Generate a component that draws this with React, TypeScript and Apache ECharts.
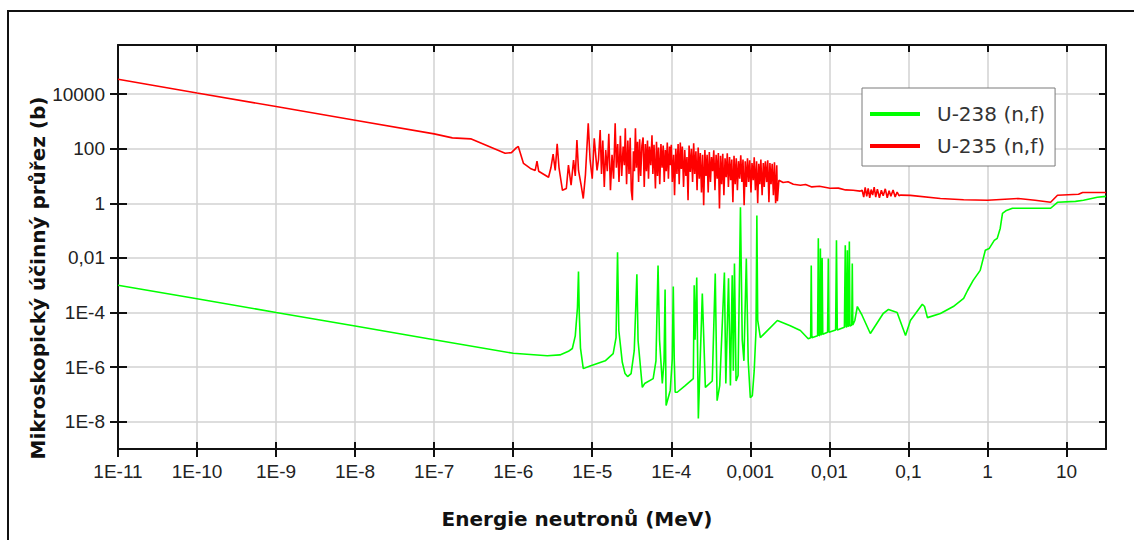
import React, { useEffect, useRef } from 'react';
import * as echarts from 'echarts';

const seriesNames = ['U-238 (n,f)', 'U-235 (n,f)'];
const xTitle = 'Energie neutronů (MeV)';
const yTitle = 'Mikroskopický účinný průřez (b)';

// axis ranges (decimal exponents)
const xRangeExp = [-11, 1.5];
const yRangeExp = [-9, 5.8];

const xTickExps = [-11, -10, -9, -8, -7, -6, -5, -4, -3, -2, -1, 0, 1];
const xTickLabels = ['1E-11', '1E-10', '1E-9', '1E-8', '1E-7', '1E-6', '1E-5', '1E-4', '0,001', '0,01', '0,1', '1', '10'];
const yTickExps = [-8, -6, -4, -2, 0, 2, 4];
const yTickLabels = ['1E-8', '1E-6', '1E-4', '0,01', '1', '100', '10000'];

// U-238 (n,f): [energy MeV, cross section b]
const u238: [number, number][] = [
  [1e-11, 1.0e-3], [1e-10, 3.2e-4], [1e-9, 1.0e-4], [1e-8, 3.2e-5], [1e-7, 1.0e-5], [1e-6, 3.2e-6],
  [2.7e-6, 2.6e-6], [3.9e-6, 2.8e-6], [5.0e-6, 3.8e-6], [5.6e-6, 4.8e-6], [6.1e-6, 1.4e-5], [6.5e-6, 1.5e-4],
  [6.7e-6, 3.2e-3], [6.85e-6, 1.0e-4], [7.1e-6, 5e-6], [7.7e-6, 8.8e-7], [9.4e-6, 1.1e-6], [1.46e-5, 1.7e-6],
  [1.84e-5, 3.1e-6], [2.0e-5, 1.2e-5], [2.09e-5, 0.016], [2.17e-5, 2.2e-5], [2.4e-5, 1.5e-6], [2.6e-5, 5.8e-7],
  [2.8e-5, 4.5e-7], [3.1e-5, 5.8e-7], [3.4e-5, 4.0e-6], [3.67e-5, 2.5e-3], [3.8e-5, 9.4e-6], [4.3e-5, 1.8e-7],
  [4.6e-5, 2.5e-7], [5.9e-5, 3.8e-7], [6.4e-5, 1.7e-6], [6.8e-5, 5.3e-3], [7.1e-5, 1.0e-5], [7.7e-5, 2.5e-7],
  [8.1e-5, 1.7e-6], [8.35e-5, 7e-4], [8.6e-5, 3.9e-8], [9.7e-5, 1.4e-7], [1.03e-4, 2e-6], [1.06e-4, 9e-4],
  [1.09e-4, 2e-6], [1.12e-4, 1.2e-7], [1.19e-4, 1.2e-7], [1.5e-4, 2.1e-7], [1.9e-4, 3.8e-7], [1.95e-4, 1.0e-3],
  [2.0e-4, 1.0e-5], [2.1e-4, 1.9e-3], [2.2e-4, 1.3e-8], [2.47e-4, 5e-4], [2.7e-4, 1.8e-7], [3.3e-4, 3.1e-7],
  [3.6e-4, 2.7e-3], [3.8e-4, 5.9e-8], [4.1e-4, 2.1e-7], [4.7e-4, 2.9e-3], [4.9e-4, 2.5e-7], [5.3e-4, 1.8e-3],
  [5.6e-4, 2.1e-7], [5.9e-4, 2.3e-3], [6.1e-4, 7.4e-7], [6.3e-4, 6.3e-3], [6.6e-4, 3.1e-7], [7.0e-4, 4.9e-7],
  [7.5e-4, 0.71], [7.9e-4, 1.0e-5], [8.3e-4, 1.7e-6], [8.9e-4, 9.6e-3], [9.4e-4, 1.7e-6], [1.0e-3, 7.6e-8],
  [1.06e-3, 9e-8], [1.12e-3, 7.4e-7], [1.18e-3, 2.2e-5], [1.21e-3, 0.36], [1.24e-3, 5.1e-5], [1.34e-3, 1.2e-5],
  [2.2e-3, 5.1e-5], [3.2e-3, 3.3e-5], [4.3e-3, 2.2e-5], [5.4e-3, 1.1e-5], [5.8e-3, 1.2e-5], [5.9e-3, 5.3e-3],
  [6.0e-3, 1.2e-5], [7.1e-3, 1.4e-5], [7.25e-3, 0.052], [7.4e-3, 1.4e-5], [7.6e-3, 1.5e-5], [7.7e-3, 0.022],
  [7.85e-3, 1.5e-5], [8.0e-3, 1.6e-5], [8.1e-3, 0.01], [8.25e-3, 1.6e-5], [9.5e-3, 1.9e-5], [9.7e-3, 9.6e-3],
  [9.9e-3, 1.9e-5], [1.2e-2, 2.3e-5], [1.23e-2, 0.044], [1.26e-2, 2.3e-5], [1.55e-2, 2.9e-5], [1.59e-2, 0.029],
  [1.63e-2, 2.9e-5], [1.66e-2, 3.0e-5], [1.69e-2, 0.019], [1.72e-2, 3.1e-5], [1.76e-2, 3.2e-5], [1.79e-2, 0.04],
  [1.82e-2, 3.2e-5], [1.92e-2, 3.5e-5], [1.95e-2, 6.3e-3], [1.98e-2, 3.5e-5], [2.1e-2, 5.1e-5], [2.26e-2, 1.66e-4],
  [2.6e-2, 7.8e-5], [3.3e-2, 1.7e-5], [4.8e-2, 9.2e-5], [5.6e-2, 1.3e-4], [7.2e-2, 1.0e-4], [9.2e-2, 1.43e-5],
  [0.106, 5.1e-5], [0.15, 2.0e-4], [0.16, 1.66e-4], [0.174, 6.5e-5], [0.254, 9.2e-5], [0.37, 1.66e-4],
  [0.5, 3.3e-4], [0.56, 6.4e-4], [0.66, 1.5e-3], [0.81, 3.5e-3], [0.94, 0.019], [1.05, 0.022], [1.22, 0.044],
  [1.33, 0.052], [1.45, 0.12], [1.55, 0.43], [1.74, 0.55], [2.07, 0.66], [6.3, 0.66], [7.7, 1.09], [13, 1.18],
  [16.4, 1.29], [24.6, 1.66], [31.6, 1.8],
];

// U-235 (n,f): [energy MeV, cross section b]
const u235: [number, number][] = [
  [1e-11, 3.5e4], [1e-10, 1.1e4], [1e-9, 3.5e3], [1e-8, 1.1e3], [1e-7, 350], [1.7e-7, 250], [2.9e-7, 230],
  [7.9e-7, 68], [9.5e-7, 72], [1.1e-6, 110], [1.16e-6, 120], [1.35e-6, 29], [1.65e-6, 19], [1.9e-6, 16],
  [2.0e-6, 35], [2.1e-6, 15], [2.8e-6, 9], [3.0e-6, 20], [3.2e-6, 63], [3.4e-6, 16], [3.6e-6, 150], [3.8e-6, 20],
  [4.2e-6, 3.0], [4.7e-6, 3.5], [5.0e-6, 25], [5.4e-6, 4.6], [5.8e-6, 38], [6.1e-6, 10], [6.4e-6, 210],
  [6.7e-6, 16], [7.2e-6, 5], [7.7e-6, 1.5], [8.2e-6, 11], [8.9e-6, 850], [9.4e-6, 38], [1.0e-5, 8],
  [1.06e-5, 240], [1.15e-5, 16], [1.2e-5, 40],
  [1.26e-5, 480], [1.31e-5, 12], [1.36e-5, 200], [1.42e-5, 4], [1.48e-5, 90], [1.55e-5, 15], [1.62e-5, 350],
  [1.70e-5, 3], [1.78e-5, 60], [1.86e-5, 8], [1.95e-5, 850], [2.02e-5, 20], [2.10e-5, 150], [2.18e-5, 6],
  [2.27e-5, 300], [2.36e-5, 10], [2.46e-5, 120], [2.55e-5, 25], [2.62e-5, 560], [2.72e-5, 5], [2.82e-5, 200],
  [2.92e-5, 12], [3.02e-5, 250], [3.12e-5, 3], [3.22e-5, 1.3], [3.32e-5, 80], [3.42e-5, 15], [3.52e-5, 560],
  [3.62e-5, 20], [3.74e-5, 180], [3.86e-5, 6], [3.98e-5, 220], [4.10e-5, 10], [4.25e-5, 130], [4.40e-5, 260],
  [4.55e-5, 4], [4.70e-5, 150], [4.85e-5, 15], [5.00e-5, 200], [5.15e-5, 8], [5.30e-5, 120], [5.50e-5, 25],
  [5.70e-5, 310], [5.85e-5, 12], [6.05e-5, 140], [6.30e-5, 3.5], [6.50e-5, 180], [6.70e-5, 10], [6.90e-5, 110],
  [7.15e-5, 5], [7.40e-5, 150], [7.65e-5, 20], [7.90e-5, 130], [8.15e-5, 6], [8.40e-5, 90], [8.65e-5, 15],
  [8.90e-5, 170], [9.20e-5, 8], [9.50e-5, 120], [9.80e-5, 25],
  [1.00e-4, 140], [1.03e-4, 6], [1.07e-4, 60], [1.10e-4, 2.0], [1.14e-4, 100], [1.18e-4, 12], [1.22e-4, 150],
  [1.26e-4, 5], [1.30e-4, 170], [1.34e-4, 18], [1.38e-4, 120], [1.43e-4, 4], [1.48e-4, 90], [1.53e-4, 10],
  [1.58e-4, 50], [1.63e-4, 1.3], [1.68e-4, 130], [1.74e-4, 14], [1.80e-4, 100], [1.86e-4, 6], [1.92e-4, 160],
  [1.98e-4, 12], [2.05e-4, 80], [2.12e-4, 3], [2.19e-4, 110], [2.26e-4, 8], [2.33e-4, 70], [2.41e-4, 2.5],
  [2.49e-4, 60], [2.57e-4, 0.85], [2.66e-4, 90], [2.75e-4, 10], [2.84e-4, 60], [2.93e-4, 2.5], [3.03e-4, 75],
  [3.13e-4, 6], [3.23e-4, 50], [3.34e-4, 15], [3.45e-4, 88], [3.57e-4, 3], [3.69e-4, 60], [3.81e-4, 8],
  [3.94e-4, 70], [4.07e-4, 0.65], [4.20e-4, 55], [4.34e-4, 5], [4.48e-4, 65], [4.63e-4, 2], [4.79e-4, 45],
  [4.95e-4, 9], [5.11e-4, 68], [5.28e-4, 4], [5.46e-4, 50], [5.64e-4, 7], [5.83e-4, 40], [6.02e-4, 1.1],
  [6.22e-4, 55], [6.43e-4, 5], [6.64e-4, 45], [6.86e-4, 3], [7.09e-4, 35], [7.33e-4, 8], [7.57e-4, 58],
  [7.82e-4, 6], [8.08e-4, 40], [8.35e-4, 0.85], [8.63e-4, 35], [8.91e-4, 4], [9.21e-4, 45], [9.52e-4, 6],
  [9.83e-4, 38], [1.02e-3, 2.5], [1.05e-3, 30], [1.09e-3, 7], [1.12e-3, 49], [1.16e-3, 3], [1.20e-3, 35],
  [1.24e-3, 1.0], [1.28e-3, 28], [1.32e-3, 5], [1.36e-3, 40], [1.41e-3, 2], [1.46e-3, 30], [1.50e-3, 4],
  [1.55e-3, 35], [1.61e-3, 6], [1.66e-3, 38], [1.72e-3, 1.1], [1.77e-3, 30], [1.83e-3, 5], [1.89e-3, 28],
  [1.96e-3, 2], [2.02e-3, 32], [2.09e-3, 1.0], [2.16e-3, 25], [2.20e-3, 1.2],
  [2.3e-3, 7], [2.6e-3, 5.8], [3.0e-3, 6.2], [3.5e-3, 5.0], [4.3e-3, 4.6], [5.0e-3, 4.9], [6.0e-3, 4.0],
  [7.5e-3, 4.2], [1.02e-2, 3.55], [1.3e-2, 3.6], [1.6e-2, 3.1], [2.0e-2, 3.0], [2.45e-2, 2.8],
  [2.6e-2, 3.0], [2.72e-2, 1.7], [2.84e-2, 3.8], [2.97e-2, 1.8], [3.1e-2, 3.5], [3.24e-2, 1.6], [3.38e-2, 3.2],
  [3.53e-2, 2.0], [3.69e-2, 3.9], [3.86e-2, 1.7], [4.05e-2, 3.3], [4.3e-2, 1.6], [4.55e-2, 3.0], [4.8e-2, 1.9],
  [5.1e-2, 3.4], [5.4e-2, 1.6], [5.7e-2, 2.9], [6.0e-2, 1.8], [6.4e-2, 3.1], [6.8e-2, 1.7], [7.2e-2, 2.6],
  [7.6e-2, 1.9], [8.0e-2, 2.0], [0.106, 1.95], [0.254, 1.5], [0.5, 1.35], [1.0, 1.29], [2.46, 1.5], [4.0, 1.3],
  [6.3, 1.09], [7.7, 1.97], [14.2, 2.14], [16, 2.5], [31.6, 2.5],
];

const tickFont = "'Liberation Sans Narrow', 'Liberation Sans', Arial, sans-serif";
const axisColor = '#111';

function labelFor(exps: number[], labels: string[]) {
  return (v: number) => {
    const i = exps.findIndex((e) => Math.abs(e - v) < 1e-6);
    return i >= 0 ? labels[i] : '';
  };
}

function toLog(d: [number, number][]) {
  return d.map(([e, s]) => [Math.log10(e), Math.log10(s)]);
}

export default function App() {
  const ref = useRef<HTMLDivElement>(null);
  useEffect(() => {
    const chart = echarts.init(ref.current!, null, { renderer: 'svg' });
    const xBase = { type: 'value', min: xRangeExp[0], max: xRangeExp[1], interval: 1 };
    const yBase = { type: 'value', min: yRangeExp[0], max: yRangeExp[1], splitNumber: 7 };
    const tickLine = { color: axisColor, width: 2 };
    chart.setOption({
      animation: false,
      backgroundColor: '#ffffff',
      grid: { left: 118, top: 45, right: 28, bottom: 91, containLabel: false },
      xAxis: [
        {
          ...xBase, position: 'bottom',
          axisLine: { show: true, onZero: false, lineStyle: { color: axisColor, width: 2 } },
          axisTick: { show: true, inside: false, length: 8, lineStyle: tickLine, customValues: xTickExps },
          axisLabel: { formatter: labelFor(xTickExps, xTickLabels), customValues: xTickExps, margin: 13, fontFamily: tickFont, fontSize: 19, color: '#222' },
          splitLine: { show: true, lineStyle: { color: '#d2d2d2', width: 1.5 } },
        },
        {
          ...xBase, position: 'bottom',
          axisLine: { show: false, onZero: false },
          axisTick: { show: true, inside: true, length: 7, lineStyle: tickLine, customValues: xTickExps },
          axisLabel: { show: false }, splitLine: { show: false },
        },
        {
          ...xBase, position: 'top',
          axisLine: { show: true, onZero: false, lineStyle: { color: axisColor, width: 2 } },
          axisTick: { show: true, inside: true, length: 7, lineStyle: tickLine, customValues: xTickExps },
          axisLabel: { show: false }, splitLine: { show: false },
        },
      ],
      yAxis: [
        {
          ...yBase, position: 'left',
          axisLine: { show: true, onZero: false, lineStyle: { color: axisColor, width: 2 } },
          axisTick: { show: true, inside: false, length: 8, lineStyle: tickLine, customValues: yTickExps },
          axisLabel: { formatter: labelFor(yTickExps, yTickLabels), customValues: yTickExps, margin: 13, fontFamily: tickFont, fontSize: 19, color: '#222' },
          splitLine: { show: true, lineStyle: { color: '#d2d2d2', width: 1.5 } },
        },
        {
          ...yBase, position: 'left',
          axisLine: { show: false, onZero: false },
          axisTick: { show: true, inside: true, length: 9, lineStyle: tickLine, customValues: yTickExps },
          axisLabel: { show: false }, splitLine: { show: false },
        },
        {
          ...yBase, position: 'right',
          axisLine: { show: true, onZero: false, lineStyle: { color: axisColor, width: 2 } },
          axisTick: { show: true, inside: true, length: 7, lineStyle: tickLine, customValues: yTickExps },
          axisLabel: { show: false }, splitLine: { show: false },
        },
      ],
      legend: {
        left: 862, top: 88, orient: 'vertical',
        backgroundColor: '#ffffff', borderColor: '#7a7a7a', borderWidth: 1,
        padding: [15, 10, 9, 8], itemGap: 10, itemWidth: 50, itemHeight: 4, icon: 'rect',
        textStyle: { fontFamily: "'DejaVu Sans', sans-serif", fontSize: 20, color: '#333', lineHeight: 22, padding: [0, 0, 0, 12] },
        data: seriesNames,
      },
      graphic: [
        {
          type: 'rect', shape: { x: 8, y: 11, width: 2000, height: 2000 }, silent: true,
          style: { fill: 'none', stroke: '#111', lineWidth: 2 },
        },
        {
          type: 'text', x: 577, y: 519, silent: true,
          style: { text: xTitle, fontFamily: "'DejaVu Sans', sans-serif", fontWeight: 'bold', fontSize: 20, fill: '#111', textAlign: 'center', textVerticalAlign: 'middle' },
        },
        {
          type: 'text', x: 38, y: 278, rotation: Math.PI / 2, silent: true,
          style: { text: yTitle, fontFamily: "'DejaVu Sans', sans-serif", fontWeight: 'bold', fontSize: 20, fill: '#111', textAlign: 'center', textVerticalAlign: 'middle' },
        },
      ],
      series: [
        {
          name: seriesNames[0], type: 'line', xAxisIndex: 0, yAxisIndex: 0, data: toLog(u238),
          symbol: 'none', showSymbol: false, silent: true,
          lineStyle: { color: '#00ff00', width: 1.6 }, itemStyle: { color: '#00ff00' },
        },
        {
          name: seriesNames[1], type: 'line', xAxisIndex: 0, yAxisIndex: 0, data: toLog(u235),
          symbol: 'none', showSymbol: false, silent: true,
          lineStyle: { color: '#ff0000', width: 1.6 }, itemStyle: { color: '#ff0000' },
        },
      ],
    });
    return () => chart.dispose();
  }, []);
  return <div ref={ref} style={{ position: 'fixed', left: 0, top: 0, width: 1134, height: 540, background: '#fff' }} />;
}
